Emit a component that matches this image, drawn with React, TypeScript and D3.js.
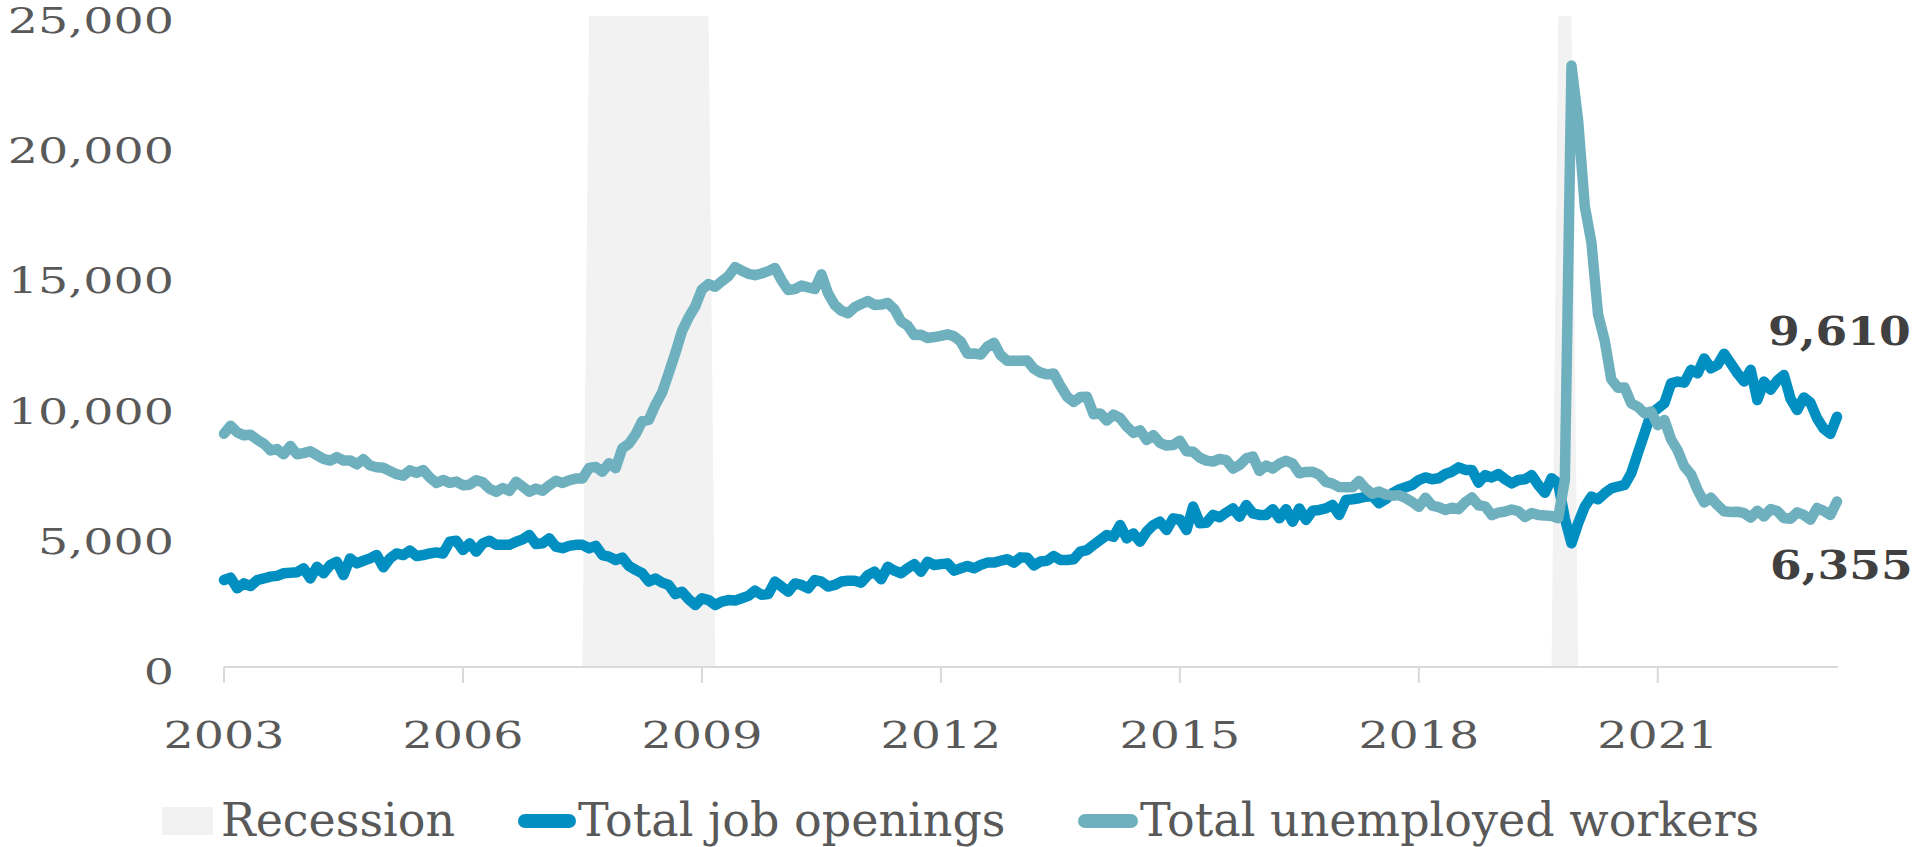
import React from 'react';
import * as d3 from 'd3';

// monthly series, May 2003 .. Aug 2023 (thousands)
const START_YEAR = 2003;
const START_MONTH = 5;

const jobOpenings = [
  // 2003 (May-Dec)
  3340, 3430, 3020, 3210, 3110, 3340, 3400, 3470,
  3500, 3600, 3620, 3640, 3790, 3400, 3850, 3600, 3920, 4040, 3530, 4170, // 2004
  3980, 4080, 4170, 4300, 3830, 4170, 4360, 4300, 4470, 4260, 4300, 4360, // 2005
  4400, 4360, 4810, 4850, 4490, 4750, 4430, 4750, 4850, 4690, 4690, 4690, // 2006
  4810, 4900, 5070, 4720, 4750, 4940, 4620, 4560, 4650, 4690, 4690, 4560, // 2007
  4650, 4300, 4240, 4110, 4200, 3880, 3730, 3600, 3280, 3400, 3240, 3150, // 2008
  2800, 2890, 2600, 2380, 2640, 2570, 2380, 2510, 2570, 2550, 2640, 2730, // 2009
  2930, 2770, 2800, 3280, 3090, 2890, 3210, 3150, 3020, 3340, 3280, 3090, // 2010
  3150, 3280, 3310, 3310, 3240, 3530, 3660, 3370, 3850, 3700, 3600, 3790, // 2011
  3950, 3660, 4040, 3920, 3950, 3980, 3700, 3790, 3880, 3790, 3920, 4010, // 2012
  4010, 4080, 4140, 4010, 4210, 4200, 3900, 4050, 4080, 4260, 4110, 4110, // 2013
  4140, 4430, 4490, 4690, 4880, 5070, 5000, 5450, 4940, 5130, 4810, 5200, // 2014
  5450, 5580, 5260, 5710, 5670, 5260, 6160, 5520, 5540, 5840, 5750, 5930, // 2015
  6090, 5770, 6220, 5900, 5840, 5840, 6060, 5710, 6060, 5580, 6090, 5650, // 2016
  6000, 6030, 6090, 6220, 5840, 6410, 6440, 6480, 6540, 6570, 6290, 6440, // 2017
  6670, 6820, 6900, 6990, 7180, 7280, 7210, 7250, 7410, 7500, 7670, 7570, // 2018
  7570, 7080, 7370, 7280, 7410, 7210, 7050, 7180, 7210, 7370, 6990, 6690, // 2019
  7250, 7050, 5710, 4750, 5520, 6160, 6540, 6440, 6670, 6860, 6930, 6990, // 2020
  7440, 8210, 8970, 9740, 9930, 10130, 10890, 10960, 10920, 11410, 11280, 11850, // 2021
  11470, 11600, 12030, 11660, 11280, 10960, 11410, 10250, 10960, 10650, 11000, 11210, // 2022
  10300, 9870, 10350, 10150, 9550, 9150, 8950, 9610, // 2023 (Jan-Aug)
];

const unemployed = [
  // 2003 (May-Dec)
  8957, 9266, 9011, 8896, 8921, 8732, 8576, 8317,
  8370, 8167, 8491, 8170, 8212, 8286, 8136, 7990, 7927, 8061, 7932, 7934, // 2004
  7784, 7980, 7737, 7672, 7651, 7524, 7406, 7345, 7553, 7453, 7566, 7279, // 2005
  7064, 7184, 7072, 7120, 6980, 7001, 7175, 7091, 6847, 6727, 6872, 6762, // 2006
  7116, 6927, 6731, 6850, 6766, 6979, 7149, 7067, 7170, 7237, 7240, 7645, // 2007
  7685, 7497, 7822, 7637, 8395, 8575, 8937, 9438, 9494, 10074, 10538, 11286, // 2008
  12058, 12898, 13426, 13853, 14499, 14707, 14601, 14814, 15009, 15352, 15219, 15098, // 2009
  15046, 15113, 15202, 15325, 14849, 14474, 14512, 14648, 14579, 14516, 15081, 14348, // 2010
  13910, 13682, 13584, 13814, 13939, 14051, 13906, 13919, 13982, 13736, 13275, 13106, // 2011
  12746, 12762, 12635, 12670, 12718, 12775, 12697, 12494, 12034, 12038, 11999, 12304, // 2012
  12449, 11976, 11762, 11758, 11757, 11773, 11453, 11306, 11239, 11271, 10798, 10384, // 2013
  10180, 10366, 10379, 9708, 9739, 9463, 9690, 9565, 9237, 8993, 9090, 8717, // 2014
  8903, 8610, 8504, 8526, 8689, 8285, 8267, 8039, 7925, 7892, 7988, 7942, // 2015
  7620, 7760, 8010, 8080, 7530, 7740, 7620, 7810, 7920, 7810, 7440, 7490, // 2016
  7500, 7380, 7110, 7040, 6910, 6900, 6900, 7140, 6850, 6650, 6740, 6620, // 2017
  6580, 6600, 6490, 6340, 6150, 6500, 6200, 6140, 6030, 6120, 6060, 6330, // 2018
  6510, 6210, 6170, 5830, 5930, 5970, 6050, 5980, 5760, 5910, 5840, 5820, // 2019
  5796, 5717, 7185, 23090, 20985, 17697, 16308, 13542, 12535, 11049, 10728, 10736, // 2020
  10125, 9991, 9740, 9812, 9289, 9484, 8743, 8317, 7703, 7397, 6800, 6319, // 2021
  6502, 6212, 5979, 5952, 5965, 5905, 5736, 6005, 5781, 6062, 5988, 5722, // 2022
  5694, 5938, 5839, 5657, 6106, 5997, 5838, 6355, // 2023 (Jan-Aug)
];

// NBER recessions [year, month]
const recessions = [
  { start: [2007, 12], end: [2009, 6] },
  { start: [2020, 2], end: [2020, 4] },
];

const yTicks = [0, 5000, 10000, 15000, 20000, 25000];
const xTickYears = [2003, 2006, 2009, 2012, 2015, 2018, 2021];

const BLUE = '#008fc0';
const TEAL = '#6fb0be';
const BAND = '#f2f2f2';
const GREY_TEXT = '#595959';
const FONT = "'DejaVu Serif', Georgia, serif";

const monthIndex = (y: number, m: number) => (y - START_YEAR) * 12 + (m - START_MONTH);

export default function App() {
  const width = 1917;
  const height = 847;
  const n = jobOpenings.length;

  const x = d3.scaleLinear().domain([0, n - 1]).range([224, 1837]);
  const y = d3.scaleLinear().domain([0, 25000]).range([667, 16]);

  // recession indicator drawn as an area, like the spreadsheet did
  const recFlag = jobOpenings.map((_, i) =>
    recessions.some(r => i >= monthIndex(r.start[0], r.start[1]) && i <= monthIndex(r.end[0], r.end[1])) ? 25000 : 0
  );
  const band = d3.area<number>()
    .x((_, i) => x(i))
    .y0(y(0))
    .y1(d => y(d));

  const line = d3.line<number>()
    .x((_, i) => x(i))
    .y(d => y(d));

  const fmt = d3.format(',');
  const lastX = x(n - 1);

  return (
    <svg width={width} height={height} style={{ position: 'absolute', left: 0, top: 0, background: '#fff' }}>
      <path d={band(recFlag) || ''} fill={BAND} />

      {/* x axis */}
      <line x1={x(0)} x2={x(n - 1) + 1} y1={y(0)} y2={y(0)} stroke="#d9d9d9" strokeWidth={2} />
      {xTickYears.map(yr => {
        const xi = x(monthIndex(yr, START_MONTH));
        return (
          <g key={yr}>
            <line x1={xi} x2={xi} y1={y(0)} y2={y(0) + 16} stroke="#d9d9d9" strokeWidth={2} />
            <g transform={`translate(${xi},748) scale(1.25,1)`}>
              <text textAnchor="middle" fontFamily={FONT} fontSize={38} fill={GREY_TEXT}>{yr}</text>
            </g>
          </g>
        );
      })}

      {/* y labels */}
      {yTicks.map(v => (
        <g key={v} transform={`translate(174,${y(v) + 17}) scale(1.32,1)`}>
          <text textAnchor="end" fontFamily={FONT} fontSize={36} fill={GREY_TEXT}>{fmt(v)}</text>
        </g>
      ))}

      {/* series */}
      <path d={line(jobOpenings) || ''} fill="none" stroke={BLUE} strokeWidth={10.5} strokeLinejoin="round" strokeLinecap="round" />
      <path d={line(unemployed) || ''} fill="none" stroke={TEAL} strokeWidth={10.5} strokeLinejoin="round" strokeLinecap="round" />

      {/* end labels */}
      <g transform={`translate(${lastX - 69},${y(jobOpenings[n - 1]) - 72}) scale(1.14,1)`}>
        <text fontFamily={FONT} fontWeight="bold" fontSize={40} fill="#404040">{fmt(jobOpenings[n - 1])}</text>
      </g>
      <g transform={`translate(${lastX - 67},${y(unemployed[n - 1]) + 77}) scale(1.14,1)`}>
        <text fontFamily={FONT} fontWeight="bold" fontSize={40} fill="#404040">{fmt(unemployed[n - 1])}</text>
      </g>

      {/* legend */}
      <g fontFamily={FONT} fontSize={46} fill={GREY_TEXT}>
        <rect x={162} y={807} width={51} height={28} fill={BAND} />
        <text x={221} y={836}>{'Recession'}</text>
        <line x1={525} x2={569} y1={821} y2={821} stroke={BLUE} strokeWidth={14} strokeLinecap="round" />
        <text x={578} y={836}>{'Total job openings'}</text>
        <line x1={1085} x2={1131} y1={821} y2={821} stroke={TEAL} strokeWidth={14} strokeLinecap="round" />
        <text x={1140} y={836}>{'Total unemployed workers'}</text>
      </g>
    </svg>
  );
}
